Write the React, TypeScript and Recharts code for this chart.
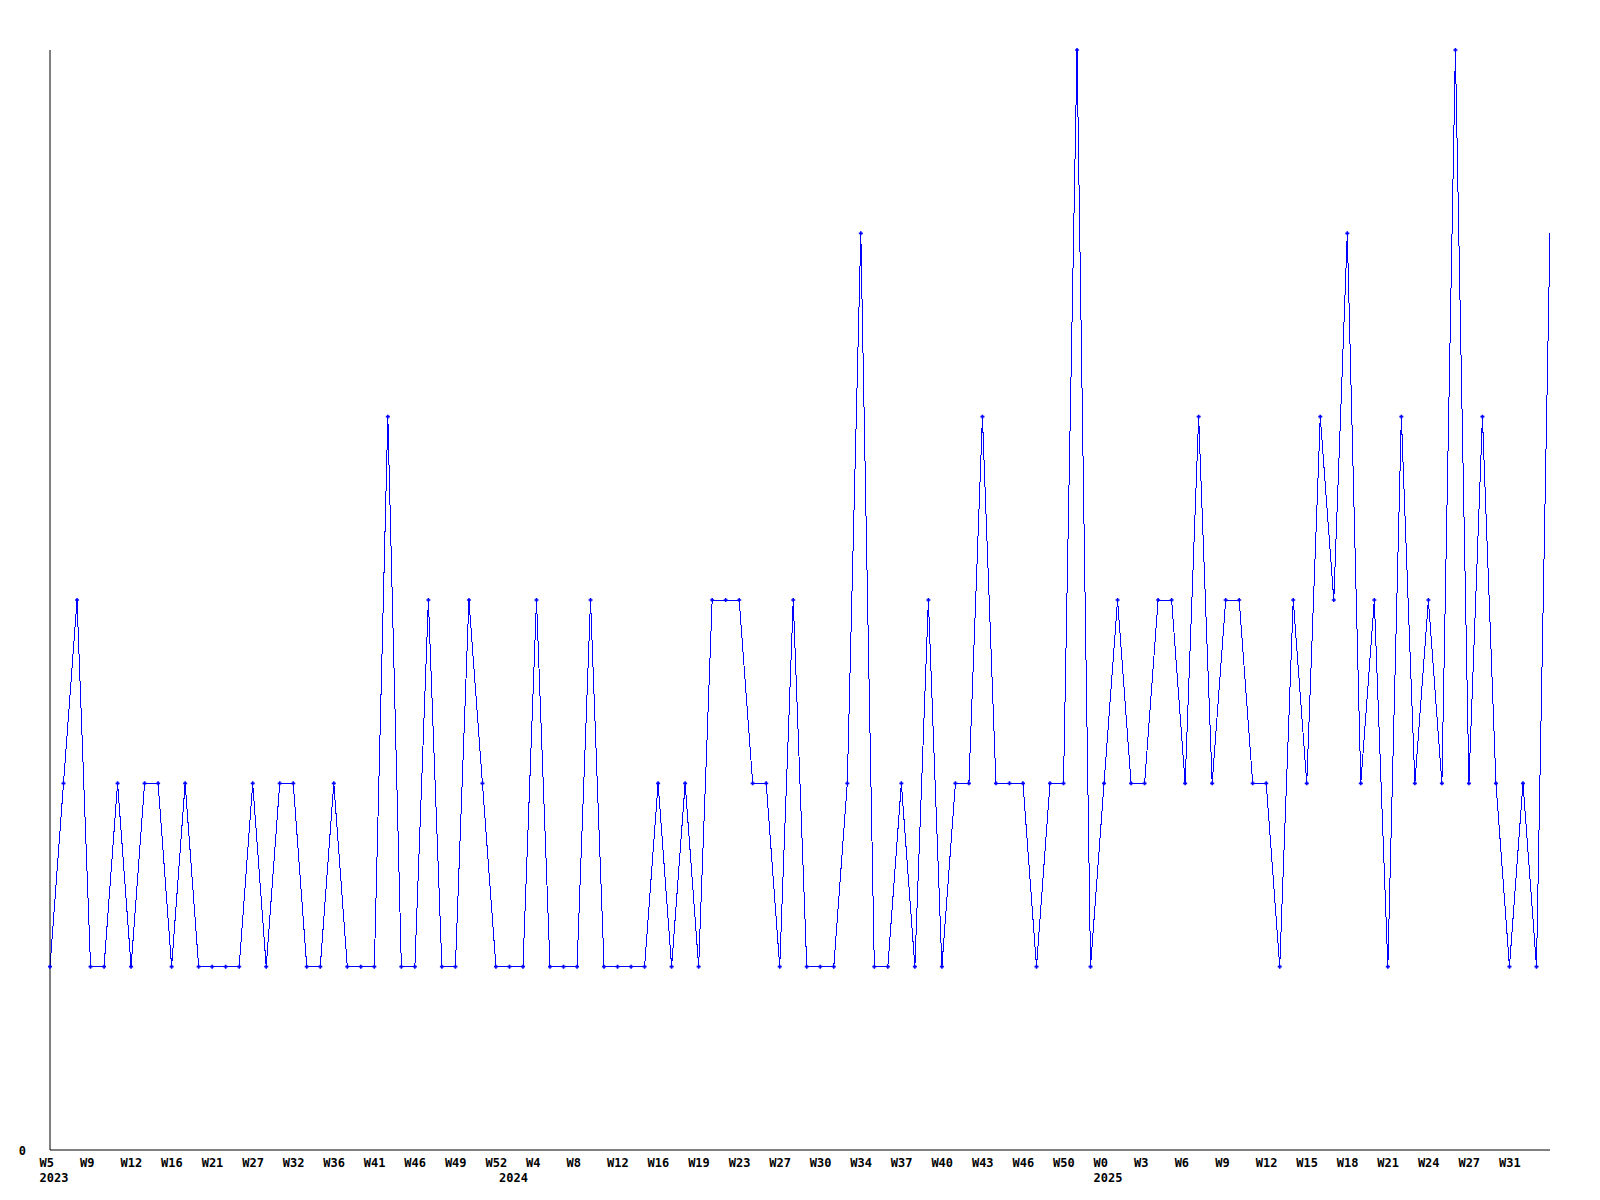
import React from 'react';
import { LineChart, Line, XAxis, YAxis } from 'recharts';

// Weekly values (one per plotted week, left to right)
const counts = [
  1, 2, 3, 1, 1, 2, 1, 2, 2, 1, 2, 1, 1, 1, 1, 2, 1, 2, 2, 1,
  1, 2, 1, 1, 1, 4, 1, 1, 3, 1, 1, 3, 2, 1, 1, 1, 3, 1, 1, 1,
  3, 1, 1, 1, 1, 2, 1, 2, 1, 3, 3, 3, 2, 2, 1, 3, 1, 1, 1, 2,
  5, 1, 1, 2, 1, 3, 1, 2, 2, 4, 2, 2, 2, 1, 2, 2, 6, 1, 2, 3,
  2, 2, 3, 3, 2, 4, 2, 3, 3, 2, 2, 1, 3, 2, 4, 3, 5, 2, 3, 1,
  4, 2, 3, 2, 6, 2, 4, 2, 1, 2, 1, 5,
];

// Labelled weeks, one every TICK_STEP points
const weekTicks = [
  'W5', 'W9', 'W12', 'W16', 'W21', 'W27', 'W32', 'W36', 'W41', 'W46', 'W49', 'W52',
  'W4', 'W8', 'W12', 'W16', 'W19', 'W23', 'W27', 'W30', 'W34', 'W37', 'W40', 'W43', 'W46', 'W50',
  'W0', 'W3', 'W6', 'W9', 'W12', 'W15', 'W18', 'W21', 'W24', 'W27', 'W31',
];
const TICK_STEP = 3;

// Year labels at the first plotted week of each year (point index -> year)
const yearPointPos = [0, 34, 78];
const yearNames = ['2023', '2024', '2025'];

const yTicks = [0];
const Y_MAX = 6;

const data = counts.map((v, i) => ({ i, v }));
const weekTickIdx = weekTicks.map((_, k) => k * TICK_STEP);
const xTicks = Array.from(new Set([...weekTickIdx, ...yearPointPos])).sort((a, b) => a - b);

const FONT = '"DejaVu Sans Mono", "Liberation Mono", monospace';

const XTick = (props: any) => {
  const { x, y, payload } = props;
  const idx = Math.round(payload.value);
  const label = idx % TICK_STEP === 0 ? weekTicks[idx / TICK_STEP] ?? '' : '';
  const yi = yearPointPos.indexOf(idx);
  return (
    <g>
      {label && (
        <text x={x - 10.5} y={y + 13} textAnchor="start" dominantBaseline="central"
          fontFamily={FONT} fontWeight="bold" fontSize={12} fill="#000">{label}</text>
      )}
      {yi >= 0 && (
        <text x={x - 10.5} y={y + 28} textAnchor="start" dominantBaseline="central"
          fontFamily={FONT} fontWeight="bold" fontSize={12} fill="#000">{yearNames[yi]}</text>
      )}
    </g>
  );
};

const YTick = (props: any) => {
  const { x, y, payload } = props;
  return (
    <text x={x - 24} y={y + 1} textAnchor="end" dominantBaseline="central"
      fontFamily={FONT} fontWeight="bold" fontSize={12} fill="#000">{payload.value}</text>
  );
};

const Marker = (props: any) => {
  const { cx, cy, index } = props;
  if (index === counts.length - 1 || cx == null) return <g key={`m${index}`} />;
  return (
    <path key={`m${index}`}
      d={`M${cx - 2},${cy}H${cx + 2}M${cx},${cy - 2}V${cy + 2}`}
      stroke="#0000ff" strokeWidth={1.6} fill="none" />
  );
};

export default function App() {
  return (
    <div style={{ position: 'absolute', left: 0, top: 0, width: 1600, height: 1200, background: '#fff' }}>
      <LineChart width={1600} height={1200} data={data}
        margin={{ top: 50, right: 50, bottom: 0, left: 0 }}>
        <XAxis dataKey="i" type="number" domain={[0, counts.length - 1]} ticks={xTicks}
          interval={0} tickLine={false} tickSize={0} tickMargin={0} height={50}
          axisLine={{ stroke: '#000', strokeWidth: 1 }} tick={<XTick />} allowDecimals={false} />
        <YAxis type="number" domain={[0, Y_MAX]} ticks={yTicks} width={50}
          tickLine={false} tickSize={0} tickMargin={0} interval={0}
          axisLine={{ stroke: '#000', strokeWidth: 1 }} tick={<YTick />} />
        <Line type="linear" dataKey="v" stroke="#0000ff" strokeWidth={1}
          dot={<Marker />} activeDot={false} isAnimationActive={false}
          shapeRendering="crispEdges" />
      </LineChart>
    </div>
  );
}
